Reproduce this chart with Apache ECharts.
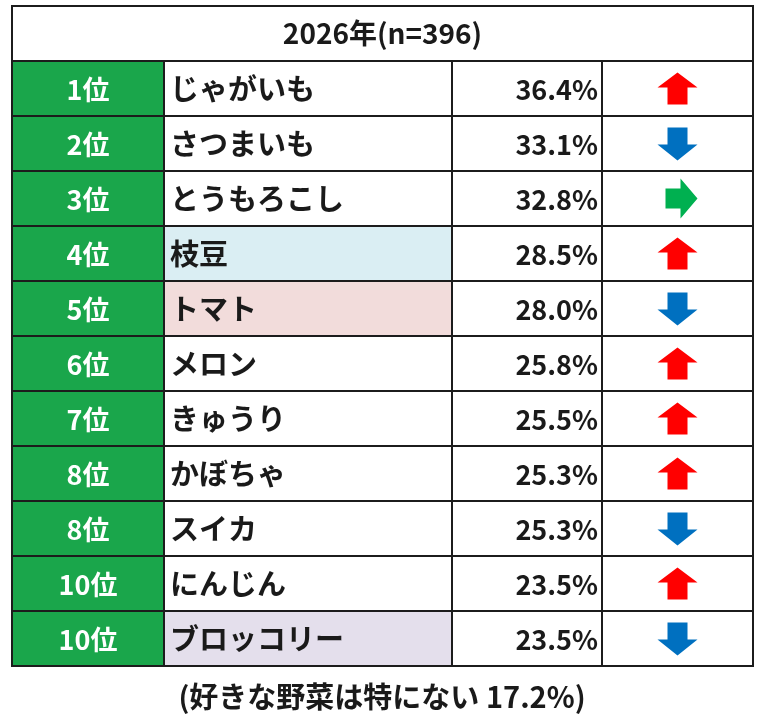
<!DOCTYPE html>
<html>
<head>
<meta charset="utf-8">
<script src="https://cdn.jsdelivr.net/npm/echarts@6/dist/echarts.min.js"></script>
<style>
html,body{margin:0;padding:0;background:#fff;}
#main{width:764px;height:721px;}
</style>
</head>
<body>
<div id="main"></div>
<script>
// ---- data ----
const headerText = '2026年(n=396)';
const footnote = '(好きな野菜は特にない 17.2%)';
const ranks = ['1位','2位','3位','4位','5位','6位','7位','8位','8位','10位','10位'];
const names = ['じゃがいも','さつまいも','とうもろこし','枝豆','トマト','メロン','きゅうり','かぼちゃ','スイカ','にんじん','ブロッコリー'];
const values = [36.4, 33.1, 32.8, 28.5, 28.0, 25.8, 25.5, 25.3, 25.3, 23.5, 23.5];
const trends = ['up','down','flat','up','down','up','up','up','down','up','down'];

// ---- styles / layout ----
const nameFill = { '枝豆': '#daeef3', 'トマト': '#f2dcdb', 'ブロッコリー': '#e4dfec' };
const trendColor = { up: '#ff0000', down: '#0070c0', flat: '#00b050' };
const colEdges = [0, 152, 440, 590, 741];
const FONT = '"Noto Sans CJK JP", "Noto Sans", sans-serif';
const lineColor = '#1c1c1c';
const green = '#1aa64b';

const rowData = ranks.map((r, i) => [i + 1, i]);

function arrowPoints(kind, cx, cy) {
  if (kind === 'up') {
    return [[cx, cy - 16], [cx + 20, cy - 1], [cx + 10, cy - 1], [cx + 10, cy + 16],
            [cx - 10, cy + 16], [cx - 10, cy - 1], [cx - 20, cy - 1]];
  } else if (kind === 'down') {
    return [[cx, cy + 17], [cx + 20, cy + 1], [cx + 10, cy + 1], [cx + 10, cy - 16],
            [cx - 10, cy - 16], [cx - 10, cy + 1], [cx - 20, cy + 1]];
  }
  cx += 4;
  return [[cx + 16, cy], [cx - 1, cy + 20], [cx - 1, cy + 10], [cx - 16, cy + 10],
          [cx - 16, cy - 10], [cx - 1, cy - 10], [cx - 1, cy - 20]];
}

const chart = echarts.init(document.getElementById('main'), null, { renderer: 'canvas' });
chart.setOption({
  backgroundColor: '#ffffff',
  animation: false,
  title: {
    text: footnote,
    left: 'center',
    top: 677,
    textStyle: { fontFamily: FONT, fontSize: 29, fontWeight: 'bold', color: '#1a1a1a' }
  },
  grid: { left: 12, top: 6, width: 741, height: 660 },
  xAxis: { type: 'value', min: 0, max: 741, show: false },
  yAxis: {
    type: 'category', inverse: true, show: false,
    data: ['header'].concat(ranks.map((r, i) => String(i)))
  },
  series: [
    {
      type: 'custom',
      coordinateSystem: 'cartesian2d',
      data: [[0]],
      renderItem: function (params, api) {
        const c = api.coord([0, 0]);
        const h = api.size([0, 1])[1];
        const x0 = api.coord([colEdges[0], 0])[0];
        const x1 = api.coord([colEdges[4], 0])[0];
        return {
          type: 'group',
          children: [
            { type: 'rect', shape: { x: x0, y: c[1] - h / 2, width: x1 - x0, height: h },
              style: { fill: '#ffffff', stroke: lineColor, lineWidth: 2 } },
            { type: 'text', style: { text: headerText, x: (x0 + x1) / 2, y: c[1],
              align: 'center', verticalAlign: 'middle', fontFamily: FONT,
              fontSize: 28, fontWeight: 'bold', fill: '#1a1a1a' } }
          ]
        };
      }
    },
    {
      type: 'custom',
      coordinateSystem: 'cartesian2d',
      data: rowData,
      renderItem: function (params, api) {
        const row = api.value(0);
        const i = api.value(1);
        const cy = api.coord([0, row])[1];
        const h = api.size([0, 1])[1];
        const top = cy - h / 2;
        const xs = colEdges.map(e => api.coord([e, row])[0]);
        const children = [];
        const fills = [green, nameFill[names[i]] || '#ffffff', '#ffffff', '#ffffff'];
        for (let k = 0; k < 4; k++) {
          children.push({ type: 'rect', shape: { x: xs[k], y: top, width: xs[k + 1] - xs[k], height: h },
            style: { fill: fills[k], stroke: lineColor, lineWidth: 2 } });
        }
        children.push({ type: 'text', style: { text: ranks[i], x: (xs[0] + xs[1]) / 2, y: cy + 1,
          align: 'center', verticalAlign: 'middle', fontFamily: FONT, fontSize: 27,
          fontWeight: 'bold', fill: '#ffffff' } });
        children.push({ type: 'text', style: { text: names[i], x: xs[1] + 6, y: cy,
          align: 'left', verticalAlign: 'middle', fontFamily: FONT, fontSize: 29,
          fontWeight: 'bold', fill: '#1a1a1a' } });
        children.push({ type: 'text', style: { text: values[i].toFixed(1) + '%', x: xs[3] - 4, y: cy + 1,
          align: 'right', verticalAlign: 'middle', fontFamily: FONT, fontSize: 27,
          fontWeight: 'bold', fill: '#1a1a1a' } });
        const acx = (xs[3] + xs[4]) / 2;
        children.push({ type: 'polygon', shape: { points: arrowPoints(trends[i], acx, cy) },
          style: { fill: trendColor[trends[i]] } });
        return { type: 'group', children: children };
      }
    }
  ]
});
</script>
</body>
</html>
